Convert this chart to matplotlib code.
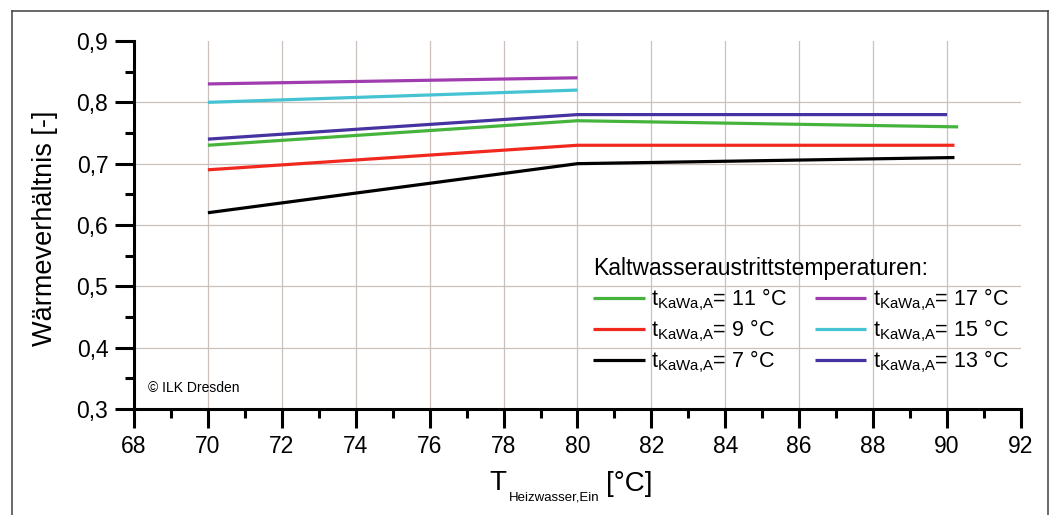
import matplotlib
matplotlib.use("Agg")
import matplotlib.pyplot as plt
from matplotlib.lines import Line2D
from matplotlib.ticker import MultipleLocator, FixedLocator

plt.rcParams['font.family'] = ['Liberation Sans', 'DejaVu Sans']
plt.rcParams['mathtext.fontset'] = 'custom'
plt.rcParams['mathtext.rm'] = 'Liberation Sans'
plt.rcParams['mathtext.it'] = 'Liberation Sans'

# ---- data ----
x_17 = [70, 80]
y_17 = [0.83, 0.84]
x_15 = [70, 80]
y_15 = [0.80, 0.82]
x_13 = [70, 80, 90]
y_13 = [0.74, 0.78, 0.78]
x_11 = [70, 80, 90.3]
y_11 = [0.73, 0.77, 0.76]
x_9 = [70, 80, 90.2]
y_9 = [0.69, 0.73, 0.73]
x_7 = [70, 80, 90.2]
y_7 = [0.62, 0.70, 0.71]

x_ticks = [68, 70, 72, 74, 76, 78, 80, 82, 84, 86, 88, 90, 92]
y_ticks = [0.3, 0.4, 0.5, 0.6, 0.7, 0.8, 0.9]
y_tick_labels = ["0,3", "0,4", "0,5", "0,6", "0,7", "0,8", "0,9"]

sub = r"$_{\mathrm{KaWa{,}A}}$"
series = [
    (x_11, y_11, "#46b43c", "t" + sub + "= 11 °C"),
    (x_9, y_9, "#f0281e", "t" + sub + "= 9 °C"),
    (x_7, y_7, "#000000", "t" + sub + "= 7 °C"),
    (x_17, y_17, "#a03cb0", "t" + sub + "= 17 °C"),
    (x_15, y_15, "#46c3d2", "t" + sub + "= 15 °C"),
    (x_13, y_13, "#4632a0", "t" + sub + "= 13 °C"),
]

W, H = 1051, 515
fig = plt.figure(figsize=(W / 100, H / 100), dpi=100)
ax = fig.add_axes([134 / W, 1 - 409 / H, (1021 - 134) / W, (409 - 41) / H])

for xs, ys, c, lab in series:
    ax.plot(xs, ys, color=c, lw=2.3, label=lab, solid_capstyle='butt', zorder=3)

ax.set_xlim(68, 92)
ax.set_ylim(0.3, 0.9)
ax.xaxis.set_major_locator(FixedLocator(x_ticks))
ax.xaxis.set_minor_locator(MultipleLocator(1))
ax.yaxis.set_major_locator(FixedLocator(y_ticks))
ax.set_yticklabels(y_tick_labels)
ax.yaxis.set_minor_locator(MultipleLocator(0.05))

for s in ['top', 'right']:
    ax.spines[s].set_visible(False)
for s in ['left', 'bottom']:
    ax.spines[s].set_linewidth(2.2)
    ax.spines[s].set_color('black')

ax.tick_params(which='major', direction='out', length=13.5, width=2.2, labelsize=16.5, pad=5)
ax.tick_params(which='minor', direction='out', length=6.5, width=2.2)

ax.grid(which='major', color='#cac1bd', lw=0.9, zorder=0)
ax.set_axisbelow(True)
ax.yaxis.get_gridlines()[-1].set_visible(False)
ax.xaxis.get_gridlines()[-1].set_visible(False)

leg = ax.legend(ncol=2, frameon=False, fontsize=15.5,
                title="Kaltwasseraustrittstemperaturen:", title_fontsize=16.5,
                loc='upper left', bbox_to_anchor=((593 - 134) / 887, (409 - 257) / 368),
                borderpad=0, borderaxespad=0, handlelength=2.4, handletextpad=0.3,
                columnspacing=1.3, labelspacing=0.2, alignment='left')
leg._legend_box.sep = 5

def fx(px):
    return px / W

def fy(py):
    return 1 - py / H

fig.text(fx(148), fy(388), "© ILK Dresden", fontsize=10, va='center', ha='left')
fig.text(fx(45), fy(228), "Wärmeverhältnis [-]", rotation=90, fontsize=19.5, ha='center', va='center')
fig.text(fx(489), fy(490), "T", fontsize=20, ha='left', va='baseline')
fig.text(fx(509), fy(500), "Heizwasser,Ein", fontsize=9.5, ha='left', va='baseline')
fig.text(fx(606), fy(491), "[°C]", fontsize=20, ha='left', va='baseline')

# outer frame
for (xa, ya), (xb, yb) in [((12, 600), (12, 11)), ((12, 11), (1048, 11)), ((1048, 11), (1048, 600))]:
    fig.add_artist(Line2D([fx(xa), fx(xb)], [fy(ya), fy(yb)], color='#404040', lw=1.1,
                          transform=fig.transFigure))

fig.savefig("out.png", dpi=100)
